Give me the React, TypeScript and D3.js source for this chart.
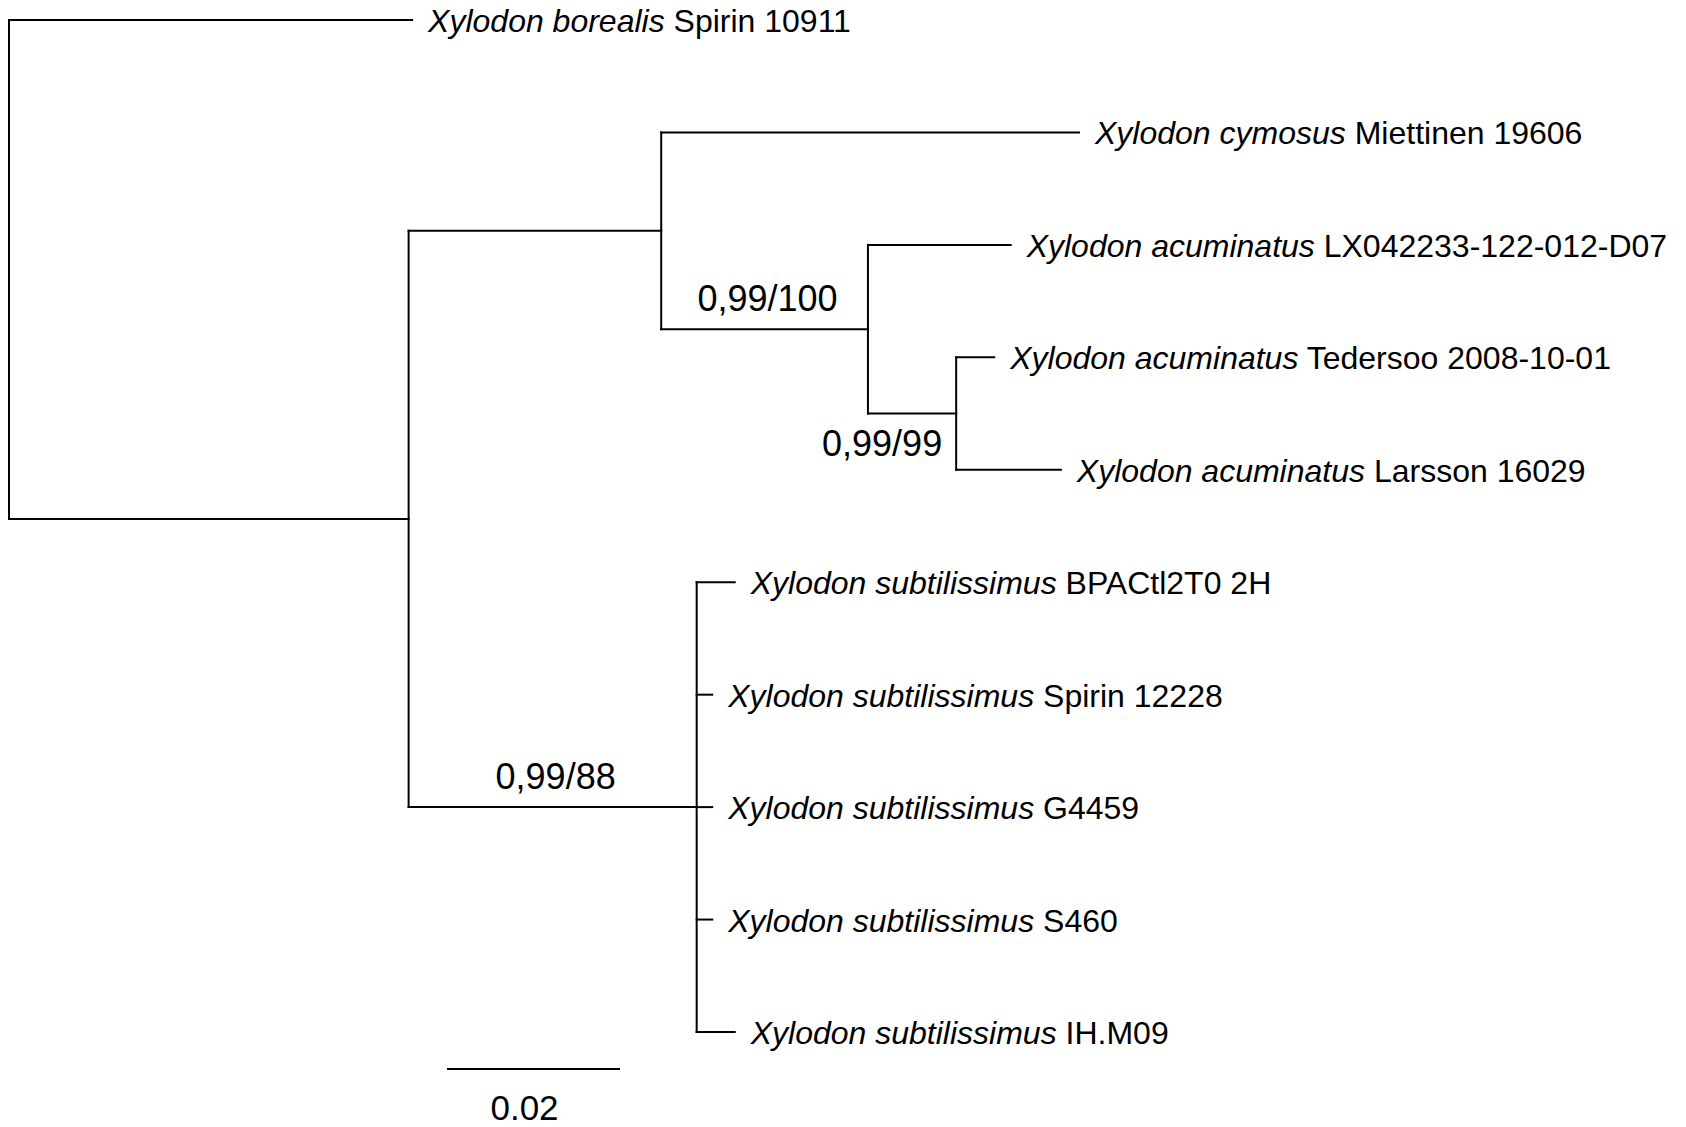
import React from "react";
import * as d3 from "d3";

// tree topology: node ids, parent ids and branch lengths (substitutions/site)
const nodeIds = ["root", "borealis", "A", "B", "cymosus", "C", "lx", "D", "tedersoo", "larsson", "S", "bpac", "spirin", "g4459", "s460", "ihm09"];
const parentIds = ["", "root", "root", "A", "B", "B", "C", "C", "D", "D", "A", "S", "S", "S", "S", "S"];
const branchLengths = [0, 0.0466, 0.0462, 0.0292, 0.0483, 0.0239, 0.0165, 0.0102, 0.0044, 0.0121, 0.0333, 0.0044, 0.0018, 0.0018, 0.0018, 0.0044];

// tip labels: italic species part + plain voucher part
const speciesNames = ["", "Xylodon borealis", "", "", "Xylodon cymosus", "", "Xylodon acuminatus", "", "Xylodon acuminatus", "Xylodon acuminatus", "", "Xylodon subtilissimus", "Xylodon subtilissimus", "Xylodon subtilissimus", "Xylodon subtilissimus", "Xylodon subtilissimus"];
const vouchers = ["", "Spirin 10911", "", "", "Miettinen 19606", "", "LX042233-122-012-D07", "", "Tedersoo 2008-10-01", "Larsson 16029", "", "BPACtl2T0 2H", "Spirin 12228", "G4459", "S460", "IH.M09"];

// support values (posterior probability / bootstrap)
const supportNodes = ["C", "D", "S"];
const supportLabels = ["0,99/100", "0,99/99", "0,99/88"];
const supportPlacement = ["above", "below", "above"];

const scaleBarValue = 0.02;
const scaleBarLabel = "0.02";

const width = 1686;
const height = 1127;
const font = "'Liberation Sans', Arial, sans-serif";

interface TNode {
  id: string;
  parent: string;
  len: number;
  species: string;
  voucher: string;
}

const rows: TNode[] = nodeIds.map((id, i) => ({
  id,
  parent: parentIds[i],
  len: branchLengths[i],
  species: speciesNames[i],
  voucher: vouchers[i],
}));

const App: React.FC = () => {
  const root = d3
    .stratify<TNode>()
    .id((d) => d.id)
    .parentId((d) => d.parent || null)(rows);

  // cumulative distance from root
  const dist = new Map<string, number>();
  root.each((n) => {
    dist.set(n.id!, n.parent ? dist.get(n.parent.id!)! + n.data.len : 0);
  });

  const leaves = root.leaves();
  const xScale = d3.scaleLinear().domain([0, scaleBarValue]).range([9, 182]);
  const yScale = d3
    .scalePoint<string>()
    .domain(leaves.map((l) => l.id!))
    .range([20, 1032]);

  const yPos = new Map<string, number>();
  root.eachAfter((n) => {
    if (!n.children) yPos.set(n.id!, yScale(n.id!)!);
    else {
      const first = yPos.get(n.children[0].id!)!;
      const last = yPos.get(n.children[n.children.length - 1].id!)!;
      yPos.set(n.id!, (first + last) / 2);
    }
  });

  const nx = (id: string) => xScale(dist.get(id)!);
  const ny = (id: string) => yPos.get(id)!;

  const nodes = root.descendants();

  return (
    <svg width={width} height={height} style={{ position: "absolute", left: 0, top: 0, background: "#fff" }}>
      <g stroke="#000" strokeWidth={2} fill="none" strokeLinecap="square">
        {/* horizontal branches */}
        {nodes
          .filter((n) => n.parent)
          .map((n) => (
            <line key={"h" + n.id} x1={nx(n.parent!.id!)} x2={nx(n.id!)} y1={ny(n.id!)} y2={ny(n.id!)} />
          ))}
        {/* vertical connectors */}
        {nodes
          .filter((n) => n.children)
          .map((n) => (
            <line
              key={"v" + n.id}
              x1={nx(n.id!)}
              x2={nx(n.id!)}
              y1={ny(n.children![0].id!)}
              y2={ny(n.children![n.children!.length - 1].id!)}
            />
          ))}
      </g>

      {/* tip labels */}
      <g fontFamily={font} fontSize={32} fill="#000">
        {leaves.map((l) => (
          <text key={"t" + l.id} x={nx(l.id!) + 16} y={ny(l.id!) + 12}>
            <tspan fontStyle="italic">{l.data.species}</tspan>
            <tspan> {l.data.voucher}</tspan>
          </text>
        ))}
      </g>

      {/* support values */}
      <g fontFamily={font} fontSize={36} fill="#000">
        {supportNodes.map((id, i) => {
          const n = nodes.find((d) => d.id === id)!;
          const px = nx(n.parent!.id!);
          const x = nx(id);
          const y = ny(id);
          if (supportPlacement[i] === "above") {
            return (
              <text key={"s" + id} x={(px + x) / 2 + 3} y={y - 18} textAnchor="middle">
                {supportLabels[i]}
              </text>
            );
          }
          return (
            <text key={"s" + id} x={x - 14} y={y + 42} textAnchor="end">
              {supportLabels[i]}
            </text>
          );
        })}
      </g>

      {/* scale bar */}
      <g>
        <line
          x1={xScale(0) + 438}
          x2={xScale(scaleBarValue) + 438}
          y1={1069}
          y2={1069}
          stroke="#000"
          strokeWidth={2}
        />
        <text
          x={(xScale(0) + xScale(scaleBarValue)) / 2 + 429}
          y={1120}
          textAnchor="middle"
          fontFamily={font}
          fontSize={35}
        >
          {scaleBarLabel}
        </text>
      </g>
    </svg>
  );
};

export default App;
